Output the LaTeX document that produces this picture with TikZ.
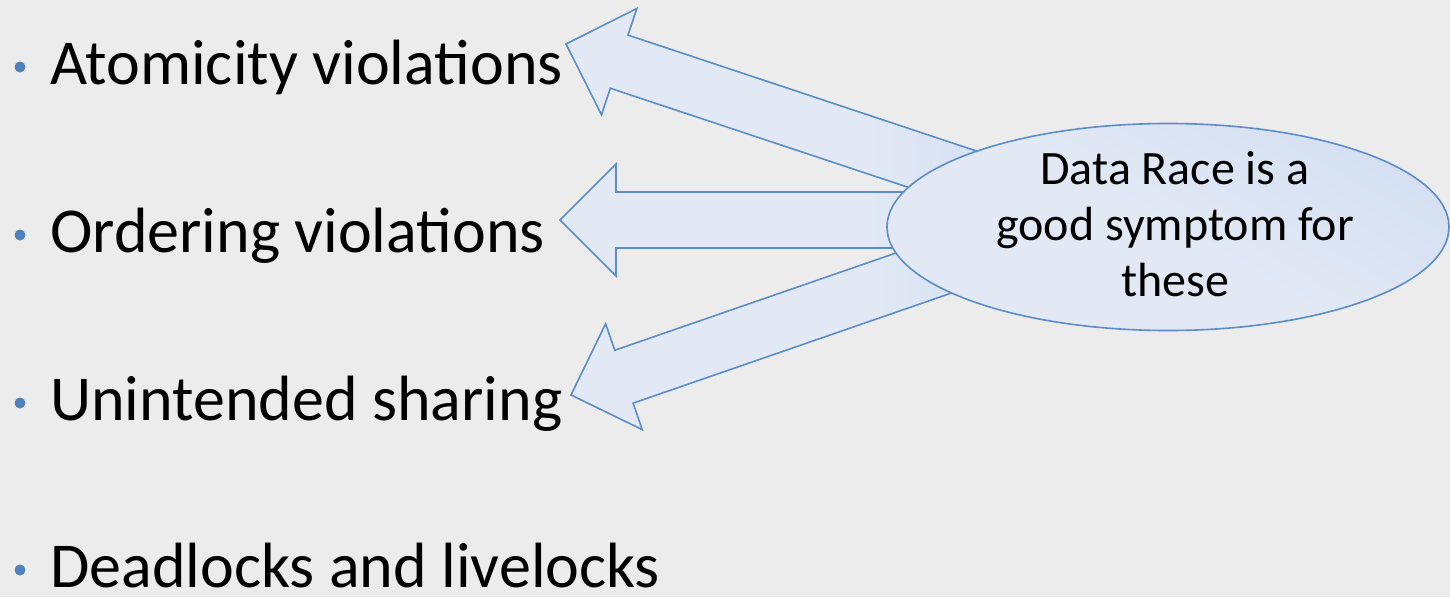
\documentclass[tikz,border=0pt]{standalone}
\usepackage{fontspec}
\setmainfont{Carlito}
\usetikzlibrary{calc,shapes.geometric}

\definecolor{bg}{HTML}{ECECEC}
\definecolor{accent}{HTML}{4F81BD}
\definecolor{edge}{HTML}{5B8DC8}
\definecolor{fillA}{HTML}{E2E9F5}
\definecolor{fillB}{HTML}{C6D6EE}

% light body that darkens toward the ellipse end
\pgfdeclarehorizontalshading{arrowshade}{100bp}{color(0bp)=(fillA); color(60bp)=(fillA); color(88bp)=(fillB); color(100bp)=(fillB)}
\pgfdeclarehorizontalshading{ellshade}{100bp}{color(0bp)=(fillA); color(50bp)=(fillA); color(100bp)=(fillB)}

\tikzset{
  item/.style={font=\fontsize{64}{70}\selectfont, anchor=base west, inner sep=0pt},
  dot/.style={circle, fill=accent, inner sep=0pt, minimum size=11pt},
  arrowbody/.style={shading=arrowshade, draw=edge, line width=1.6pt, line join=miter},
  bubble/.style={ellipse, shading=ellshade, shading angle=60, draw=edge, line width=1.6pt,
                 minimum width=562pt, minimum height=207pt, inner sep=0pt},
  bubbletext/.style={font=\fontsize{48}{56}\selectfont, align=center, anchor=base, inner sep=0pt}
}

% block arrow: #1 tail, #2 tip, #3 name prefix
\newcommand\blockarrow[3]{%
  \coordinate (#3h) at ($(#2)!56pt!(#1)$);
  \path[arrowbody]
    ($(#1)!28pt!90:(#2)$) --
    ($(#3h)!28pt!90:(#2)$) --
    ($(#3h)!56pt!90:(#2)$) --
    (#2) --
    ($(#3h)!56pt!-90:(#2)$) --
    ($(#3h)!28pt!-90:(#2)$) --
    ($(#1)!28pt!-90:(#2)$) -- cycle;
}

\begin{document}
\begin{tikzpicture}[x=1pt, y=-1pt]
  \fill[bg] (0,0) rectangle (1450,597);
  \useasboundingbox (0,0) rectangle (1450,597);

  % bullet list
  \node[item] (atom) at (50,84)  {Atomicity violations};
  \node[item] (order) at (50,252) {Ordering violations};
  \node[item] (share) at (50,420) {Unintended sharing};
  \node[item] (dead) at (50,587) {Deadlocks and livelocks};
  \node[dot] (b1) at ($(atom.base west)+(-30,-17)$) {};
  \node[dot] (b2) at ($(order.base west)+(-30,-17)$) {};
  \node[dot] (b3) at ($(share.base west)+(-30,-17)$) {};
  \node[dot] (b4) at ($(dead.base west)+(-30,-17)$) {};

  % arrow ends
  \coordinate (tip1) at (566,44);
  \coordinate (tail1) at (993,186);
  \coordinate (tip2) at (560,220);
  \coordinate (tail2) at (1000,220);
  \coordinate (tip3) at (571,395);
  \coordinate (tail3) at (996,248);

  \blockarrow{tail1}{tip1}{a1}
  \blockarrow{tail2}{tip2}{a2}
  \blockarrow{tail3}{tip3}{a3}

  % the symptom bubble on top of the arrow tails
  \node[bubble] (race) at (1168,227) {};
  \node[bubbletext] (racetext) at (1175,296) {Data Race is a\\good symptom for\\these};
\end{tikzpicture}
\end{document}
